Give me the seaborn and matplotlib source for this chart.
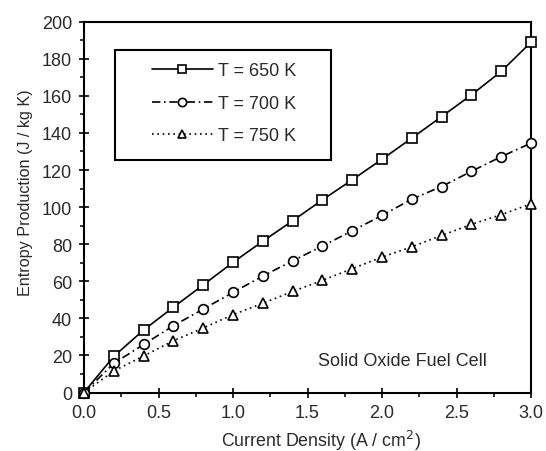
import pandas as pd
import matplotlib
matplotlib.use("Agg")
import matplotlib.pyplot as plt
import seaborn as sns
from matplotlib.ticker import MultipleLocator, FormatStrFormatter
from matplotlib.patches import Rectangle

current_density = [0.0, 0.2, 0.4, 0.6, 0.8, 1.0, 1.2, 1.4, 1.6, 1.8, 2.0, 2.2, 2.4, 2.6, 2.8, 3.0]
entropy_650 = [0, 19.5, 33.7, 46, 58, 70.2, 81.6, 92.6, 103.9, 114.7, 125.8, 137.2, 148.8, 160.5, 173.2, 188.9]
entropy_700 = [0, 15.7, 25.9, 36, 45, 54, 62.8, 71, 79, 87.2, 95.5, 104.3, 111.1, 119.3, 127.2, 134.5]
entropy_750 = [0, 11.6, 19.7, 27.9, 34.8, 42, 48.1, 54.5, 60.5, 66.8, 73, 78.6, 84.7, 90.7, 95.9, 101.8]
series_labels = ["T = 650 K", "T = 700 K", "T = 750 K"]

sns.set_theme(style="white")
plt.rcParams["font.family"] = ["Liberation Sans", "DejaVu Sans"]

W, H = 546, 452
fig = plt.figure(figsize=(W / 100, H / 100), dpi=100)
# axes box in pixel units: left 84, right 531, top 22.7, bottom 393.5
ax = fig.add_axes([84 / W, 1 - 393.5 / H, 447 / W, 370.8 / H])

text_color = "#2a2a2a"
styles = [
    dict(marker="s", linestyle="-"),
    dict(marker="o", linestyle=(0, (5, 2.2, 1, 2.2))),
    dict(marker="^", linestyle=(0, (1, 2.2))),
]
for values, label, st in zip([entropy_650, entropy_700, entropy_750], series_labels, styles):
    df = pd.DataFrame({"j": current_density, "s": values})
    sns.lineplot(data=df, x="j", y="s", ax=ax, color="black", lw=1.2,
                 marker=st["marker"], linestyle=st["linestyle"], markersize=7,
                 markerfacecolor="white", markeredgecolor="black", markeredgewidth=1.2,
                 label=label, clip_on=False, zorder=3)

ax.set_xlim(0, 3.0)
ax.set_ylim(0, 200)
ax.xaxis.set_major_locator(MultipleLocator(0.5))
ax.xaxis.set_minor_locator(MultipleLocator(0.25))
ax.yaxis.set_major_locator(MultipleLocator(20))
ax.yaxis.set_minor_locator(MultipleLocator(10))
ax.xaxis.set_major_formatter(FormatStrFormatter("%.1f"))
ax.tick_params(which="major", direction="inout", length=7.2, width=1.2, colors="black",
               labelcolor=text_color, labelsize=13, pad=5, bottom=True, left=True)
ax.tick_params(which="minor", direction="out", length=3, width=1.1, colors="black",
               bottom=True, left=True)
for sp in ax.spines.values():
    sp.set_color("black")
    sp.set_linewidth(1.5)

ax.set_xlabel("Current Density (A / cm$^2$)", fontsize=12.8, color=text_color)
ax.xaxis.label.set_va("baseline")
ax.xaxis.set_label_coords(0.53, -(447.5 - 393.5) / 370.8)
ax.set_ylabel("Entropy Production (J / kg K)", fontsize=11.6, color=text_color)
ax.yaxis.set_label_coords(-0.114, 0.542)

ax.text(2.703, 17, "Solid Oxide Fuel Cell", fontsize=13, ha="right", va="center",
        color=text_color)

# legend entries without their own frame; the box is drawn separately
leg = ax.legend(loc="upper left", bbox_to_anchor=(151.5 / W, 1 - 63.5 / H),
                bbox_transform=fig.transFigure, frameon=False, fontsize=13,
                handlelength=3.38, handletextpad=0.3, labelspacing=0.85,
                borderpad=0, borderaxespad=0, markerscale=0.85)
for t in leg.get_texts():
    t.set_color(text_color)
box = Rectangle((114.9 / W, 1 - 160.9 / H), 215.9 / W, 110.4 / H, transform=fig.transFigure,
                fill=True, facecolor="white", edgecolor="black", linewidth=1.5, zorder=4)
ax.add_patch(box)
leg.set_zorder(5)

fig.savefig("out.png", dpi=100, facecolor="white")
